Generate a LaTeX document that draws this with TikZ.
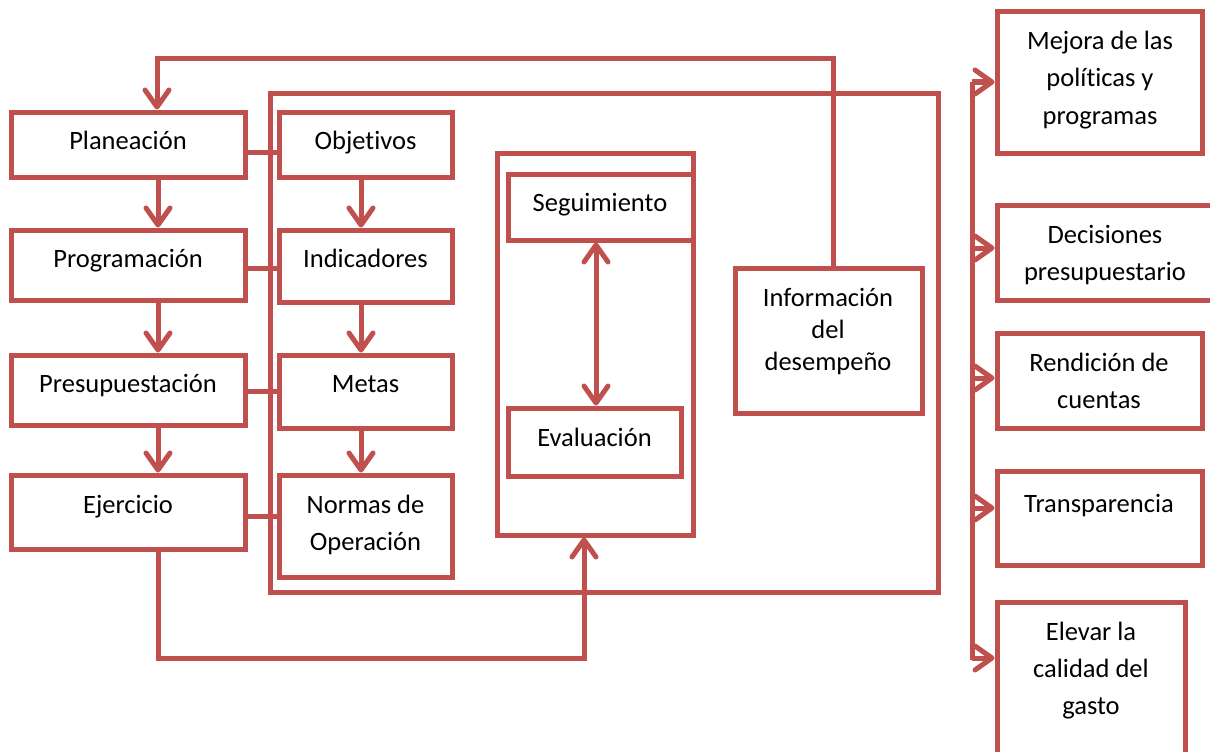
\documentclass[tikz,border=0pt]{standalone}
\usepackage{fontspec}
\setmainfont{Carlito}[Ligatures={NoCommon}]
\usetikzlibrary{arrows.meta}
\definecolor{rd}{HTML}{C0504D}
\begin{document}
\begin{tikzpicture}[x=1pt,y=-1pt,
  box/.style={draw=rd,line width=5pt,inner sep=0pt},
  conn/.style={draw=rd,line width=5pt},
  >={Straight Barb[length=17pt,width=24pt,line cap=round,line join=round]},
  txt/.style={anchor=base,inner sep=0pt,align=center,text=black,font=\fontsize{26.5}{37}\selectfont}]
\clip (0,0) rectangle (1210,752);
\fill[white] (0,0) rectangle (1210,752);
% containers
\node[box,minimum width=668pt,minimum height=499pt] (big) at (604,342.5) {};
\node[box,minimum width=196pt,minimum height=382pt] (sub) at (595.5,344) {};
% left column
\node[box,minimum width=234pt,minimum height=65pt] (plan) at (128,144.5) {};
\node[box,minimum width=234pt,minimum height=70pt] (prog) at (128,265) {};
\node[box,minimum width=234pt,minimum height=70pt] (pres) at (128,390) {};
\node[box,minimum width=234pt,minimum height=74pt] (ejer) at (128,512) {};
% middle column
\node[box,minimum width=173pt,minimum height=65pt] (obj) at (365.5,144.5) {};
\node[box,minimum width=173pt,minimum height=72pt] (ind) at (365.5,266) {};
\node[box,minimum width=173pt,minimum height=73pt] (metas) at (365.5,391.5) {};
\node[box,minimum width=173pt,minimum height=102pt] (normas) at (365.5,526) {};
% evaluation block
\node[box,minimum width=185pt,minimum height=66pt] (seg) at (600.5,207) {};
\node[box,minimum width=173pt,minimum height=68pt] (eval) at (594.5,442) {};
\node[box,minimum width=187pt,minimum height=145pt] (info) at (828.5,340.5) {};
% right column
\node[box,minimum width=205pt,minimum height=141pt] (mejora) at (1099.5,82.5) {};
\node[box,minimum width=217pt,minimum height=95pt] (dec) at (1105.5,252.5) {};
\node[box,minimum width=205pt,minimum height=95pt] (rend) at (1099.5,380.5) {};
\node[box,minimum width=205pt,minimum height=94pt] (trans) at (1099.5,518) {};
\node[box,minimum width=188pt,minimum height=175pt] (elev) at (1091,689.5) {};
% texts (anchor base = baseline of the last line)
\node[txt] (tplan) at (128,149) {Planeación};
\node[txt] (tprog) at (128,267) {Programación};
\node[txt] (tpres) at (128,392) {Presupuestación};
\node[txt] (tejer) at (128,513) {Ejercicio};
\node[txt] (tobj) at (365.5,149) {Objetivos};
\node[txt] (tind) at (365.5,267) {Indicadores};
\node[txt] (tmetas) at (365.5,392) {Metas};
\node[txt] (tnormas) at (365.5,550) {Normas de\\Operación};
\node[txt] (tseg) at (600,211) {Seguimiento};
\node[txt] (teval) at (594.5,446) {Evaluación};
\node[txt,font=\fontsize{26.5}{32}\selectfont] (tinfo) at (828,370) {Información\\del\\desempeño};
\node[txt] (tmejora) at (1100,124) {Mejora de las\\políticas y\\programas};
\node[txt] (tdec) at (1105,280) {Decisiones\\presupuestario};
\node[txt] (trend) at (1099,408) {Rendición de\\cuentas};
\node[txt] (ttrans) at (1099,512) {Transparencia};
\node[txt] (telev) at (1091,714) {Elevar la\\calidad del\\gasto};
% helper coordinates
\coordinate (lx) at (158,0);
\coordinate (mx) at (361,0);
\coordinate (fb) at (157,59);
\coordinate (bot) at (584,658);
\coordinate (bt) at (972,82);
\coordinate (bb) at (972,660);
% left column arrows
\draw[conn,->] (plan.south -| lx) -- (prog.north -| lx);
\draw[conn,->] (prog.south -| lx) -- (pres.north -| lx);
\draw[conn,->] (pres.south -| lx) -- (ejer.north -| lx);
% middle column arrows
\draw[conn,->] (obj.south -| mx) -- (ind.north -| mx);
\draw[conn,->] (ind.south -| mx) -- (metas.north -| mx);
\draw[conn,->] (metas.south -| mx) -- (normas.north -| mx);
% left-middle links
\draw[conn] (plan.east |- 0,152) -- (obj.west |- 0,152);
\draw[conn] (prog.east |- 0,268) -- (ind.west |- 0,268);
\draw[conn] (pres.east |- 0,391) -- (metas.west |- 0,391);
\draw[conn] (ejer.east |- 0,516) -- (normas.west |- 0,516);
% feedback
\draw[conn,->] (info.north -| 833,0) |- (fb) -- (fb |- plan.north);
% seguimiento - evaluacion
\draw[conn,<->] (seg.south -| 596,0) -- (eval.north -| 596,0);
% ejercicio to evaluation block
\draw[conn,->] (ejer.south -| lx) |- (bot) -- (bot |- sub.south);
% right bar
\draw[conn] (bt) -- (bb);
\draw[conn,->] (bt) -- (mejora.west |- bt);
\draw[conn,->] (bt |- 0,248) -- (dec.west |- 0,248);
\draw[conn,->] (bt |- 0,378) -- (rend.west |- 0,378);
\draw[conn,->] (bt |- 0,508) -- (trans.west |- 0,508);
\draw[conn,->] (bt |- 0,658) -- (elev.west |- 0,658);
\end{tikzpicture}
\end{document}
